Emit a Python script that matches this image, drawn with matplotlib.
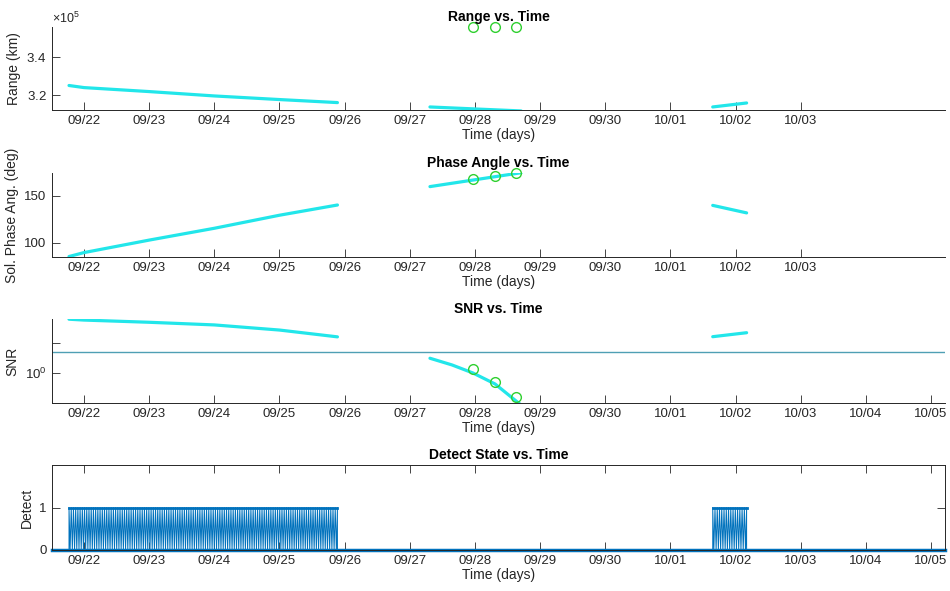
import numpy as np
import matplotlib
matplotlib.use("Agg")
import matplotlib.pyplot as plt
import matplotlib.dates as mdates
from matplotlib.ticker import ScalarFormatter, FixedLocator, NullLocator
from datetime import datetime

plt.rcParams['font.family'] = ['Liberation Sans', 'DejaVu Sans']
plt.rcParams['mathtext.fontset'] = 'custom'
plt.rcParams['mathtext.rm'] = 'Liberation Sans'
plt.rcParams['mathtext.it'] = 'Liberation Sans'

# time is in days since 2022-09-21 00:00
base = mdates.date2num(datetime(2022, 9, 21))
x_start, x_end = 0.509, 14.215

range_t = [[0.77, 1.0, 2.0, 3.0, 4.0, 4.89], [6.31, 6.97, 7.71], [10.65, 11.17]]
range_km = [[3.250e5, 3.239e5, 3.218e5, 3.195e5, 3.176e5, 3.160e5],
            [3.137e5, 3.127e5, 3.116e5],
            [3.137e5, 3.158e5]]

phase_t = [[0.77, 1.0, 2.0, 3.0, 4.0, 4.89], [6.31, 7.71], [10.65, 11.17]]
phase_deg = [[85.5, 89.7, 103.0, 115.6, 129.5, 140.4], [160.0, 174.8], [140.0, 132.0]]

snr_t = [[0.77, 1.0, 2.0, 3.0, 4.0, 4.89], [6.31, 6.65, 6.97, 7.31, 7.71], [10.65, 11.17]]
snr_val = [[62, 58, 49, 40, 27, 16], [3.1, 1.85, 1.0, 0.43, 0.085], [16.2, 22.0]]
snr_threshold = 5.0

obs_t = [6.97, 7.31, 7.63]
obs_range = [3.558e5, 3.558e5, 3.558e5]
obs_phase = [167.8, 171.6, 174.5]
obs_snr = [1.36, 0.51, 0.155]

detect_windows = [(0.77, 4.89), (10.65, 11.17)]
detect_step = 0.017  # days between detect samples

cyan = '#22e6ea'
green = '#2fd02f'
blue = '#0072bd'
axcol = '#262626'

fig = plt.figure(figsize=(9.5, 5.91), dpi=100)
left, width = 52 / 950, 893 / 950
rows = [(27, 110), (173, 257), (319, 403), (465, 550)]
axes = [fig.add_axes([left, 1 - b / 591, width, (b - t) / 591]) for t, b in rows]

def style(ax, title, ylabel, last_tick, box=False):
    ax.set_xlim(base + x_start, base + x_end)
    days = [base + d for d in range(1, last_tick + 1)]
    ax.xaxis.set_major_locator(FixedLocator(days))
    ax.xaxis.set_major_formatter(mdates.DateFormatter('%m/%d'))
    ax.tick_params(direction='in', length=6, width=0.6, colors=axcol, labelsize=9.5,
                   top=box, right=box)
    ax.tick_params(axis='y', pad=4)
    for s in ax.spines.values():
        s.set_color(axcol)
        s.set_linewidth(0.7)
    if not box:
        ax.spines['top'].set_visible(False)
        ax.spines['right'].set_visible(False)
    ax.set_title(title, fontsize=10, fontweight='bold', pad=4)
    ax.set_ylabel(ylabel, fontsize=10, color=axcol)
    ax.set_xlabel('Time (days)', fontsize=10, color=axcol, labelpad=1)

# Range
ax = axes[0]
for t, v in zip(range_t, range_km):
    ax.plot(base + np.array(t), v, color=cyan, lw=2.3, solid_capstyle='round')
ax.plot(base + np.array(obs_t), obs_range, 'o', mfc='none', mec=green, ms=7, mew=1, clip_on=False)
ax.set_ylim(3.121e5, 3.558e5)
ax.set_yticks([3.2e5, 3.4e5])
fmt = ScalarFormatter(useMathText=True, useOffset=False)
fmt.set_powerlimits((0, 0))
ax.yaxis.set_major_formatter(fmt)
ax.yaxis.get_offset_text().set_fontsize(9)
ax.yaxis.get_offset_text().set_color(axcol)
style(ax, 'Range vs. Time', 'Range (km)', 12)

# Phase angle
ax = axes[1]
for t, v in zip(phase_t, phase_deg):
    ax.plot(base + np.array(t), v, color=cyan, lw=2.3, solid_capstyle='round')
ax.plot(base + np.array(obs_t), obs_phase, 'o', mfc='none', mec=green, ms=7, mew=1, clip_on=False)
ax.set_ylim(85, 174.5)
ax.set_yticks([100, 150])
style(ax, 'Phase Angle vs. Time', 'Sol. Phase Ang. (deg)', 12)

# SNR
ax = axes[2]
ax.set_yscale('log')
for t, v in zip(snr_t, snr_val):
    ax.plot(base + np.array(t), v, color=cyan, lw=2.3, solid_capstyle='round')
ax.axhline(snr_threshold, color='#4f9fb4', lw=1)
ax.plot(base + np.array(obs_t), obs_snr, 'o', mfc='none', mec=green, ms=7, mew=1, clip_on=False)
ax.set_ylim(0.1, 63)
ax.yaxis.set_major_locator(FixedLocator([0.1, 1, 10]))
ax.yaxis.set_major_formatter(plt.FixedFormatter(['', '$10^0$', '']))
ax.yaxis.set_minor_locator(NullLocator())
style(ax, 'SNR vs. Time', 'SNR', 14)

# Detect state
ax = axes[3]
dt = [x_start]
dv = [0]
for a, b in detect_windows:
    n = int((b - a) / detect_step)
    ts = np.linspace(a, b, n + 1)
    dt.append(a)
    dv.append(0)
    dt.extend(ts)
    dv.extend([1 if i % 2 == 0 else 0 for i in range(n + 1)])
    dt.append(b)
    dv.append(0)
dt.append(x_end)
dv.append(0)
ax.plot(base + np.array(dt), dv, color=blue, lw=0.7)
for a, b in detect_windows:
    ax.plot([base + a, base + b], [1, 1], color=blue, lw=2)
ax.plot([base + x_start, base + x_end], [0, 0], color=blue, lw=2.5, clip_on=False)
ax.set_ylim(0, 2)
ax.set_yticks([0, 1])
style(ax, 'Detect State vs. Time', 'Detect', 14, box=True)

fig.savefig('out.png', dpi=100)
